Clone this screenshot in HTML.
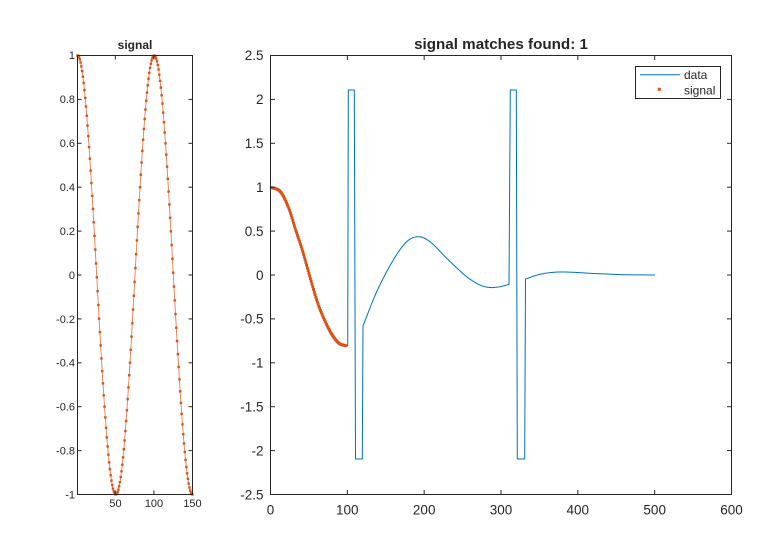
<!DOCTYPE html>
<html>
<head>
<meta charset="utf-8">
<style>
  html,body{margin:0;padding:0;background:#fff;}
  svg{display:block;}
  text{font-family:"Liberation Sans",Arial,sans-serif;fill:#262626;}
</style>
</head>
<body>
<svg id="fig" width="770" height="550" viewBox="0 0 770 550" xmlns="http://www.w3.org/2000/svg">
  <rect x="0" y="0" width="770" height="550" fill="#fff"/>
  <g id="leftplot"></g>
  <g id="rightplot"></g>

  <!-- Left axes box -->
  <rect x="77.5" y="55.5" width="115" height="439" fill="none" stroke="#262626" stroke-width="1"/>
  <g id="leftticks" stroke="#262626" stroke-width="1"></g>
  <!-- Left titles/labels -->
  <text x="135" y="49" font-size="12" font-weight="bold" text-anchor="middle">signal</text>
  <g font-size="11" text-anchor="end">
    <text x="75" y="59">1</text>
    <text x="75" y="103">0.8</text>
    <text x="75" y="147">0.6</text>
    <text x="75" y="191">0.4</text>
    <text x="75" y="235">0.2</text>
    <text x="75" y="279">0</text>
    <text x="75" y="323">-0.2</text>
    <text x="75" y="366.5">-0.4</text>
    <text x="75" y="410.5">-0.6</text>
    <text x="75" y="454.5">-0.8</text>
    <text x="75" y="498.5">-1</text>
  </g>
  <g font-size="11" text-anchor="middle">
    <text x="115.5" y="507">50</text>
    <text x="154" y="507">100</text>
    <text x="192.5" y="507">150</text>
  </g>

  <!-- Right axes box -->
  <rect x="270.5" y="55.5" width="461" height="439" fill="none" stroke="#262626" stroke-width="1"/>
  <g id="rightticks" stroke="#262626" stroke-width="1"></g>
  <text x="501" y="49" font-size="15.2" font-weight="bold" text-anchor="middle">signal matches found: 1</text>
  <g font-size="13.5" text-anchor="end">
    <text x="263.5" y="60">2.5</text>
    <text x="263.5" y="104">2</text>
    <text x="263.5" y="148">1.5</text>
    <text x="263.5" y="192">1</text>
    <text x="263.5" y="236">0.5</text>
    <text x="263.5" y="280">0</text>
    <text x="263.5" y="323.5">-0.5</text>
    <text x="263.5" y="367.5">-1</text>
    <text x="263.5" y="411.5">-1.5</text>
    <text x="263.5" y="455.5">-2</text>
    <text x="263.5" y="499.5">-2.5</text>
  </g>
  <g font-size="13.5" text-anchor="middle">
    <text x="270.5" y="514.5">0</text>
    <text x="347.3" y="514.5">100</text>
    <text x="424.2" y="514.5">200</text>
    <text x="501" y="514.5">300</text>
    <text x="577.8" y="514.5">400</text>
    <text x="654.7" y="514.5">500</text>
    <text x="731.5" y="514.5">600</text>
  </g>

  <!-- Legend -->
  <rect x="635.5" y="66.5" width="85" height="32" fill="#fff" stroke="#262626" stroke-width="1"/>
  <line x1="640" y1="74.7" x2="680" y2="74.7" stroke="#0072BD" stroke-width="1"/>
  <text x="684" y="79" font-size="12">data</text>
  <rect x="657.8" y="87.8" width="3" height="3" fill="#D95319"/>
  <text x="684" y="94.3" font-size="12">signal</text>
</svg>

<script>
(function(){
  var NS="http://www.w3.org/2000/svg";
  function el(tag, attrs, parent){
    var e=document.createElementNS(NS,tag);
    for(var k in attrs) e.setAttribute(k, attrs[k]);
    parent.appendChild(e); return e;
  }
  function herm(xs, ys){
    var n=xs.length, m=[];
    for(var i=0;i<n;i++){
      if(i==0) m.push((ys[1]-ys[0])/(xs[1]-xs[0]));
      else if(i==n-1) m.push((ys[n-1]-ys[n-2])/(xs[n-1]-xs[n-2]));
      else m.push((ys[i+1]-ys[i-1])/(xs[i+1]-xs[i-1]));
    }
    return function(x){
      var i=0; while(i<n-2 && x>xs[i+1]) i++;
      var h=xs[i+1]-xs[i], t=(x-xs[i])/h, t2=t*t, t3=t2*t;
      return (2*t3-3*t2+1)*ys[i]+(t3-2*t2+t)*h*m[i]+(-2*t3+3*t2)*ys[i+1]+(t3-t2)*h*m[i+1];
    };
  }

  // ---------- Left plot ----------
  var lp=document.getElementById('leftplot');
  var pts=[], i;
  function LX(n){return 77.5+(n-1)*(115/149);}
  function LY(v){return 275-v*219.5;}
  for(i=1;i<=150;i++){
    var v=Math.cos(3*Math.PI*(i-1)/149);
    pts.push([LX(i),LY(v)]);
  }
  el('polyline',{points:pts.map(function(p){return p[0].toFixed(2)+','+p[1].toFixed(2);}).join(' '),
    fill:'none',stroke:'#D95319','stroke-width':'0.9','stroke-opacity':'0.75'},lp);
  pts.forEach(function(p){
    el('rect',{x:(p[0]-1.2).toFixed(2),y:(p[1]-1.2).toFixed(2),width:'2.4',height:'2.4',fill:'#D95319'},lp);
  });

  // left ticks
  var lt=document.getElementById('leftticks');
  var yt=[1,0.8,0.6,0.4,0.2,0,-0.2,-0.4,-0.6,-0.8,-1];
  yt.forEach(function(v){
    var y=LY(v);
    el('line',{x1:77.5,y1:y,x2:81.5,y2:y},lt);
    el('line',{x1:192.5,y1:y,x2:188.5,y2:y},lt);
  });
  [50,100,150].forEach(function(n){
    var x=LX(n);
    el('line',{x1:x,y1:494.5,x2:x,y2:490.5},lt);
    el('line',{x1:x,y1:55.5,x2:x,y2:59.5},lt);
  });

  // ---------- Right plot ----------
  var rp=document.getElementById('rightplot');
  function RX(x){return 270.5+x*(461/600);}
  function RY(v){return 275-v*87.8;}

  var ox=[0,13,23.8,32.5,41.2,47.7,54.2,60.7,67.2,73.6,80.1,88.8,97.5,100.5];
  var oy=[1.0,0.947,0.76,0.52,0.29,0.09,-0.11,-0.30,-0.45,-0.575,-0.68,-0.775,-0.805,-0.805];
  var fo=herm(ox,oy);

  var d='';
  var x;
  for(x=0;x<=100.5;x+=0.5){
    d+=(d?' L':'M')+RX(x).toFixed(2)+' '+RY(fo(x)).toFixed(2);
  }
  d+=' L348.3 90 L354.3 90 L355.5 459 L362.3 459 L363 326';
  var mx=[363,376.7,393.3,406.7,418.3,430,446.7,466.7,480,490,500,509.3];
  var my=[326,291.7,260,241.7,236.7,241.7,258.3,276.7,285,287.5,286.7,284.3];
  var fm=herm(mx,my);
  for(x=363.5;x<=509.3;x+=0.5){
    d+=' L'+x.toFixed(2)+' '+fm(x).toFixed(2);
  }
  d+=' L510.3 90 L516.3 90 L517.3 459 L524.7 459 L525.5 279';
  var ax=[525.5,540,556.7,573.3,590,606.7,623.3,655];
  var ay=[279,274.3,272.1,272.3,273.3,274,274.7,275];
  var fa=herm(ax,ay);
  for(x=526;x<=655;x+=0.5){
    d+=' L'+x.toFixed(2)+' '+fa(x).toFixed(2);
  }
  el('path',{d:d,fill:'none',stroke:'#0072BD','stroke-width':'1','stroke-linejoin':'round'},rp);

  // orange signal markers
  var od='';
  for(x=1;x<=98;x+=1){
    od+=(od?' L':'M')+RX(x).toFixed(2)+' '+RY(fo(x)).toFixed(2);
  }
  el('path',{d:od,fill:'none',stroke:'#D95319','stroke-width':'2.2'},rp);
  for(x=1;x<=98;x+=1){
    var cx=RX(x), cy=RY(fo(x));
    el('rect',{x:(cx-1.4).toFixed(2),y:(cy-1.4).toFixed(2),width:'2.8',height:'2.8',fill:'#D95319'},rp);
  }

  // right ticks
  var rt=document.getElementById('rightticks');
  [2.5,2,1.5,1,0.5,0,-0.5,-1,-1.5,-2,-2.5].forEach(function(v){
    var y=RY(v);
    el('line',{x1:270.5,y1:y,x2:275,y2:y},rt);
    el('line',{x1:731.5,y1:y,x2:727,y2:y},rt);
  });
  [0,100,200,300,400,500,600].forEach(function(v){
    var xx=RX(v);
    el('line',{x1:xx,y1:494.5,x2:xx,y2:490},rt);
    el('line',{x1:xx,y1:55.5,x2:xx,y2:60},rt);
  });
})();
</script>
</body>
</html>
